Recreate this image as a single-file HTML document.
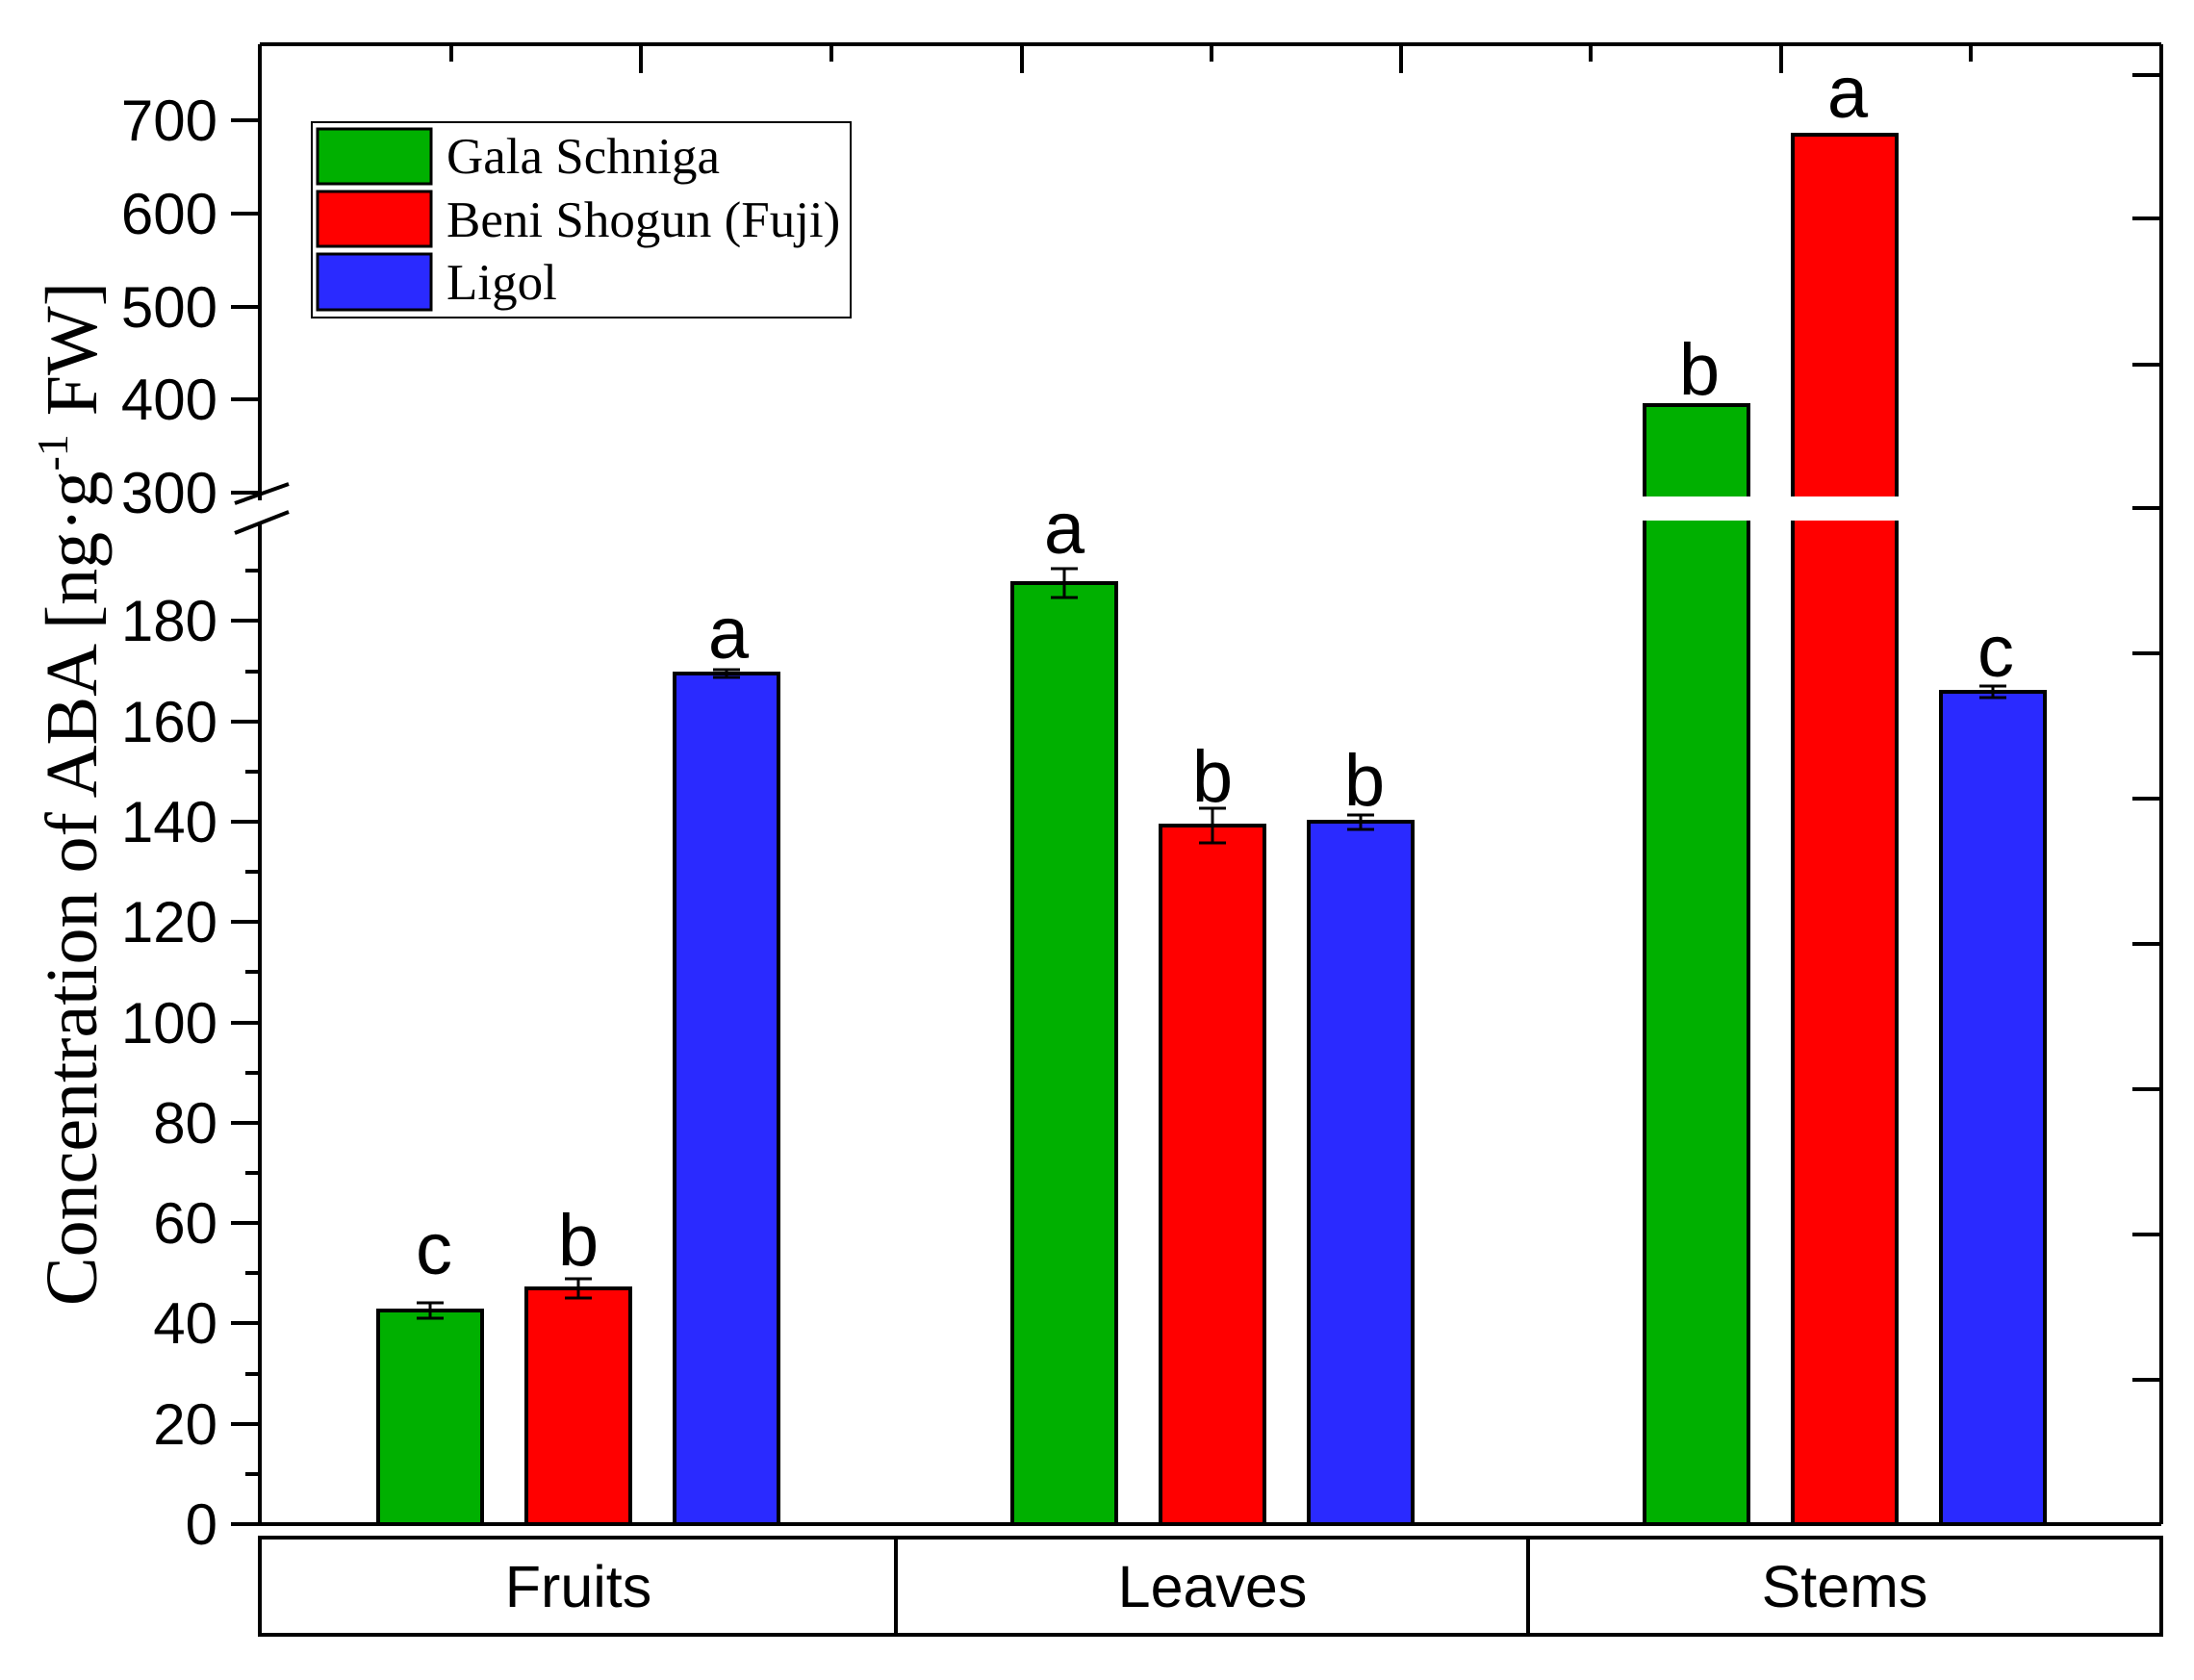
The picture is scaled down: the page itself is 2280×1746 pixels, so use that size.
<!DOCTYPE html>
<html><head><meta charset="utf-8"><style>html,body{margin:0;padding:0;background:#fff}svg{display:block}</style></head>
<body>
<svg width="2280" height="1746" viewBox="0 0 2280 1746" xmlns="http://www.w3.org/2000/svg">
<rect width="2280" height="1746" fill="#fff"/>
<g stroke="#000" stroke-width="4" fill="none">
  <line x1="270" y1="46" x2="2246" y2="46"/>
  <line x1="2246" y1="46" x2="2246" y2="1584"/>
  <line x1="240" y1="1584" x2="2246" y2="1584"/>
  <line x1="270" y1="46" x2="270" y2="520"/>
  <line x1="270" y1="544" x2="270" y2="1584"/>
  <line x1="244" y1="523" x2="300" y2="503"/>
  <line x1="244" y1="554" x2="300" y2="532"/>
  <line x1="240" y1="125" x2="270" y2="125"/>
  <line x1="240" y1="222" x2="270" y2="222"/>
  <line x1="240" y1="319" x2="270" y2="319"/>
  <line x1="240" y1="415" x2="270" y2="415"/>
  <line x1="240" y1="512" x2="270" y2="512"/>
  <line x1="240" y1="1584" x2="270" y2="1584"/>
  <line x1="240" y1="1480" x2="270" y2="1480"/>
  <line x1="240" y1="1375" x2="270" y2="1375"/>
  <line x1="240" y1="1271" x2="270" y2="1271"/>
  <line x1="240" y1="1167" x2="270" y2="1167"/>
  <line x1="240" y1="1063" x2="270" y2="1063"/>
  <line x1="240" y1="958" x2="270" y2="958"/>
  <line x1="240" y1="854" x2="270" y2="854"/>
  <line x1="240" y1="750" x2="270" y2="750"/>
  <line x1="240" y1="645" x2="270" y2="645"/>
  <line x1="255" y1="1532" x2="270" y2="1532"/>
  <line x1="255" y1="1428" x2="270" y2="1428"/>
  <line x1="255" y1="1323" x2="270" y2="1323"/>
  <line x1="255" y1="1219" x2="270" y2="1219"/>
  <line x1="255" y1="1115" x2="270" y2="1115"/>
  <line x1="255" y1="1010" x2="270" y2="1010"/>
  <line x1="255" y1="906" x2="270" y2="906"/>
  <line x1="255" y1="802" x2="270" y2="802"/>
  <line x1="255" y1="698" x2="270" y2="698"/>
  <line x1="255" y1="593" x2="270" y2="593"/>
  <line x1="469" y1="46" x2="469" y2="64"/>
  <line x1="666" y1="46" x2="666" y2="76"/>
  <line x1="864" y1="46" x2="864" y2="64"/>
  <line x1="1062" y1="46" x2="1062" y2="76"/>
  <line x1="1259" y1="46" x2="1259" y2="64"/>
  <line x1="1456" y1="46" x2="1456" y2="76"/>
  <line x1="1653" y1="46" x2="1653" y2="64"/>
  <line x1="1851" y1="46" x2="1851" y2="76"/>
  <line x1="2048" y1="46" x2="2048" y2="64"/>
  <line x1="2216" y1="78" x2="2246" y2="78"/>
  <line x1="2216" y1="227" x2="2246" y2="227"/>
  <line x1="2216" y1="379" x2="2246" y2="379"/>
  <line x1="2216" y1="528" x2="2246" y2="528"/>
  <line x1="2216" y1="679" x2="2246" y2="679"/>
  <line x1="2216" y1="830" x2="2246" y2="830"/>
  <line x1="2216" y1="981" x2="2246" y2="981"/>
  <line x1="2216" y1="1132" x2="2246" y2="1132"/>
  <line x1="2216" y1="1283" x2="2246" y2="1283"/>
  <line x1="2216" y1="1434" x2="2246" y2="1434"/>
  <rect x="270" y="1598" width="1976" height="101"/>
  <line x1="931" y1="1598" x2="931" y2="1699"/>
  <line x1="1588" y1="1598" x2="1588" y2="1699"/>
</g>
<g stroke="#000" stroke-width="4">
  <rect x="393" y="1362" width="108" height="222" fill="#00b000"/>
  <rect x="547" y="1339" width="108" height="245" fill="#ff0000"/>
  <rect x="701" y="700" width="108" height="884" fill="#2a2aff"/>
  <rect x="1052" y="606" width="108" height="978" fill="#00b000"/>
  <rect x="1206" y="858" width="108" height="726" fill="#ff0000"/>
  <rect x="1360" y="854" width="108" height="730" fill="#2a2aff"/>
  <rect x="1709" y="421" width="108" height="1163" fill="#00b000"/>
  <rect x="1863" y="140" width="108" height="1444" fill="#ff0000"/>
  <rect x="2017" y="719" width="108" height="865" fill="#2a2aff"/>
</g>
<rect x="1700" y="516" width="280" height="25" fill="#fff"/>
<g stroke="#000" stroke-width="3">
  <path d="M447 1354V1370M433 1354H461M433 1370H461"/>
  <path d="M601 1329V1349M587 1329H615M587 1349H615"/>
  <path d="M755 696V704M741 696H769M741 704H769"/>
  <path d="M1106 591V621M1092 591H1120M1092 621H1120"/>
  <path d="M1260 840V876M1246 840H1274M1246 876H1274"/>
  <path d="M1414 847V862M1400 847H1428M1400 862H1428"/>
  <path d="M2071 713V725M2057 713H2085M2057 725H2085"/>
  <path d="M1750 421H1776"/>
</g>
<g font-family="Liberation Sans, sans-serif" font-size="76" text-anchor="middle" fill="#000">
  <text x="451" y="1324">c</text>
  <text x="601" y="1315">b</text>
  <text x="757" y="684">a</text>
  <text x="1106" y="575">a</text>
  <text x="1260" y="833">b</text>
  <text x="1418" y="837">b</text>
  <text x="1766" y="410">b</text>
  <text x="1920" y="122">a</text>
  <text x="2074" y="703">c</text>
</g>
<g font-family="Liberation Sans, sans-serif" font-size="60" text-anchor="end" fill="#000">
  <text x="226" y="146">700</text>
  <text x="226" y="243">600</text>
  <text x="226" y="340">500</text>
  <text x="226" y="436">400</text>
  <text x="226" y="533">300</text>
  <text x="226" y="666">180</text>
  <text x="226" y="771">160</text>
  <text x="226" y="875">140</text>
  <text x="226" y="979">120</text>
  <text x="226" y="1084">100</text>
  <text x="226" y="1188">80</text>
  <text x="226" y="1292">60</text>
  <text x="226" y="1396">40</text>
  <text x="226" y="1501">20</text>
  <text x="226" y="1605">0</text>
</g>
<g font-family="Liberation Sans, sans-serif" font-size="61" text-anchor="middle" fill="#000">
  <text x="601" y="1670">Fruits</text>
  <text x="1260" y="1670">Leaves</text>
  <text x="1917" y="1670">Stems</text>
</g>
<text transform="translate(100,825) rotate(-90)" font-family="Liberation Serif, serif" font-size="76" text-anchor="middle" fill="#000">Concentration of ABA [ng·g<tspan dy="-30" font-size="46">-1</tspan><tspan dy="30"> FW]</tspan></text>
<rect x="324" y="127" width="560" height="203" fill="#fff" stroke="#000" stroke-width="2"/>
<g stroke="#000" stroke-width="3">
  <rect x="330" y="134" width="118" height="57" fill="#00b000"/>
  <rect x="330" y="199" width="118" height="57" fill="#ff0000"/>
  <rect x="330" y="264" width="118" height="58" fill="#2a2aff"/>
</g>
<g font-family="Liberation Serif, serif" font-size="53" fill="#000">
  <text x="464" y="180">Gala Schniga</text>
  <text x="464" y="246">Beni Shogun (Fuji)</text>
  <text x="464" y="311">Ligol</text>
</g>
</svg>
</body></html>
